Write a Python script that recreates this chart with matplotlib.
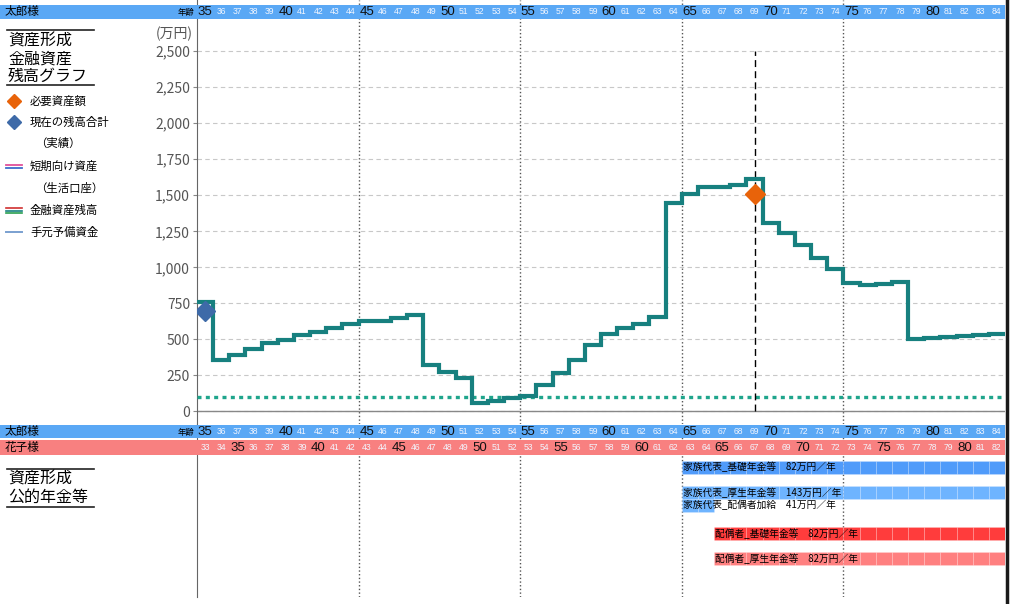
import numpy as np
import matplotlib
matplotlib.use("Agg")
import matplotlib.pyplot as plt
from matplotlib.patches import Rectangle
from matplotlib.transforms import blended_transform_factory

plt.rcParams['font.family'] = ['Noto Sans CJK JP', 'DejaVu Sans']

# --- data ---
ages = np.arange(35, 85)            # 太郎様の年齢
spouse_ages = ages - 2              # 花子様の年齢
balance = [760, 355, 393, 430, 472, 495, 528, 553, 576, 606,
           629, 629, 648, 671, 319, 273, 233, 60, 74, 92,
           106, 183, 268, 356, 460, 534, 576, 604, 657, 1449,
           1507, 1560, 1560, 1570, 1613, 1305, 1236, 1157, 1067, 988,
           893, 879, 882, 896, 500, 511, 518, 524, 532, 537]
reserve = 100                       # 手元予備資金
current_age, current_total = 35, 700
required_age, required_total = 69, 1510
yticks = np.arange(0, 2501, 250)

pension_names = ['家族代表_基礎年金等', '家族代表_厚生年金等', '家族代表_配偶者加給',
                 '配偶者_基礎年金等', '配偶者_厚生年金等']
pension_amounts = [82, 143, 41, 82, 82]
pension_start = [65, 65, 65, 67, 67]
pension_end = [85, 85, 67, 85, 85]

# --- styles ---
teal = '#17807f'
band_blue = '#5aa8f5'
band_pink = '#f88080'
pension_colors = ['#509bfa', '#6eb4ff', '#6eb4ff', '#ff3c3c', '#ff8080']
pension_rows = [0, 2, 3, 5.2, 7.2]

W, H = 1014, 604
fig = plt.figure(figsize=(W / 100, H / 100), dpi=100)


def px_axes(x0, y0, x1, y1, **kw):
    return fig.add_axes([x0 / W, 1 - y1 / H, (x1 - x0) / W, (y1 - y0) / H], **kw)


# main chart
ax = px_axes(197, 0, 1005, 424)
ax.set_xlim(35, 85)
ax.set_ylim(-88, 2856)
ax.stairs(balance, np.append(ages, ages[-1] + 1), baseline=None,
          color=teal, lw=3, zorder=4)
ax.axhline(reserve, color='#1fa58c', lw=2.4, ls=(0, (1.2, 1.3)), zorder=3)
ax.axhline(0, color='#888888', lw=1, zorder=2)
ax.vlines(required_age + 0.5, 0, 2500, color='black', lw=1,
          ls=(0, (5, 3)), zorder=3)
ax.plot(required_age + 0.5, required_total, 'D', color='#e8630a', ms=10, zorder=5)
ax.plot(current_age + 0.5, current_total, 'D', color='#3e6aa8', ms=10, zorder=5)

ax.set_yticks(yticks)
ax.set_yticklabels([f'{v:,}' for v in yticks], fontsize=10, color='#555555')
ax.set_xticks([45, 55, 65, 75])
ax.set_xticklabels([])
ax.tick_params(axis='x', length=0)
ax.tick_params(axis='y', length=3, color='#888888', pad=2)
ax.yaxis.grid(True, ls=(0, (4, 3)), color='#c8c8c8', lw=0.8)
ax.xaxis.grid(True, ls=':', color='#555555', lw=1)
for s in ['top', 'right', 'bottom']:
    ax.spines[s].set_visible(False)
ax.spines['left'].set_color('#666666')

# pension panel
bx = px_axes(197, 424, 1005, 597)
bx.set_xlim(35, 85)
bx.set_ylim(10.2, -3.4)
bx.set_xticks([45, 55, 65, 75])
bx.set_xticklabels([])
bx.set_yticks([])
bx.tick_params(axis='x', length=0)
bx.xaxis.grid(True, ls=':', color='#555555', lw=1)
for s in ['top', 'right', 'bottom']:
    bx.spines[s].set_visible(False)
bx.spines['left'].set_color('#666666')
for name, amt, s0, s1, c, r in zip(pension_names, pension_amounts, pension_start,
                                   pension_end, pension_colors, pension_rows):
    yrs = np.arange(s0, s1)
    bx.barh(np.full(len(yrs), r), 1, left=yrs, height=1.0, color=c,
            edgecolor=(1, 1, 1, 0.18), lw=0.6, zorder=2)
    bx.text(s0 + 0.05, r, f'{name}　{amt}万円／年', fontsize=7, va='center',
            ha='left', zorder=3)

# overlay for bands, titles and legend
ov = fig.add_axes([0, 0, 1, 1], zorder=10)
ov.set_xlim(0, W)
ov.set_ylim(H, 0)
ov.axis('off')
ov.patch.set_alpha(0)
tr = blended_transform_factory(ax.transData, ov.transData)


def age_band(y0, h, color, name, band_ages, show_label):
    ov.add_patch(Rectangle((0, y0), 1005, h, color=color, lw=0))
    ov.text(5, y0 + h / 2, name, fontsize=8.4, va='center', ha='left')
    if show_label:
        ov.text(194, y0 + h / 2 + 0.5, '年齢', fontsize=6, va='center', ha='right')
    for a, lab in zip(ages, band_ages):
        big = lab % 5 == 0
        ov.text(a + 0.5, y0 + h / 2 + 0.5, str(lab), transform=tr,
                fontsize=9.5 if big else 6.2, ha='center', va='center',
                color='#111111' if big else '#f2f6ff',
                family=['Liberation Sans', 'DejaVu Sans'])


age_band(4.5, 14, band_blue, '太郎様', ages, True)
age_band(425, 13, band_blue, '太郎様', ages, True)
age_band(440, 15, band_pink, '花子様', spouse_ages, False)

ov.plot([1006.5, 1006.5], [0, H], color='#1a1a1a', lw=2.5)
ov.text(193, 34, '(万円)', fontsize=10, ha='right', va='center', color='#555555')

# left title blocks
ov.plot([7, 94], [30, 30], color='#222222', lw=1.2)
ov.plot([7, 94], [85, 85], color='#222222', lw=1.2)
for i, t in enumerate(['資産形成', '金融資産', '残高グラフ']):
    ov.text(8, 41 + i * 17.8, t, fontsize=11.5, va='center', ha='left')

ov.plot([7, 94], [469, 469], color='#222222', lw=1.2)
ov.plot([7, 94], [507, 507], color='#222222', lw=1.2)
for i, t in enumerate(['資産形成', '公的年金等']):
    ov.text(8, 479 + i * 18, t, fontsize=11.5, va='center', ha='left')

# legend
ov.plot(14, 101, 'D', color='#e8630a', ms=7.5)
ov.text(30, 101, '必要資産額', fontsize=8.2, va='center')
ov.plot(14, 122, 'D', color='#3e6aa8', ms=7.5)
ov.text(30, 122, '現在の残高合計', fontsize=8.2, va='center')
ov.text(35, 143, '（実績）', fontsize=8.2, va='center')
ov.plot([6, 22], [164.5, 164.5], color='#e0509a', lw=1.3)
ov.plot([6, 22], [167.5, 167.5], color='#3d6dcc', lw=1.3)
ov.text(30, 166, '短期向け資産', fontsize=8.2, va='center')
ov.text(35, 188, '（生活口座）', fontsize=8.2, va='center')
ov.plot([6, 22], [207.5, 207.5], color='#d03030', lw=1.2)
ov.plot([6, 22], [210.5, 210.5], color=teal, lw=1.2)
ov.plot([6, 22], [213, 213], color='#2aa050', lw=1.2)
ov.text(30, 210, '金融資産残高', fontsize=8.2, va='center')
ov.plot([6, 22], [232, 232], color='#7aa0d0', lw=1.4)
ov.text(30, 232, '手元予備資金', fontsize=8.2, va='center')

fig.savefig('out.png', dpi=100, facecolor='white')
